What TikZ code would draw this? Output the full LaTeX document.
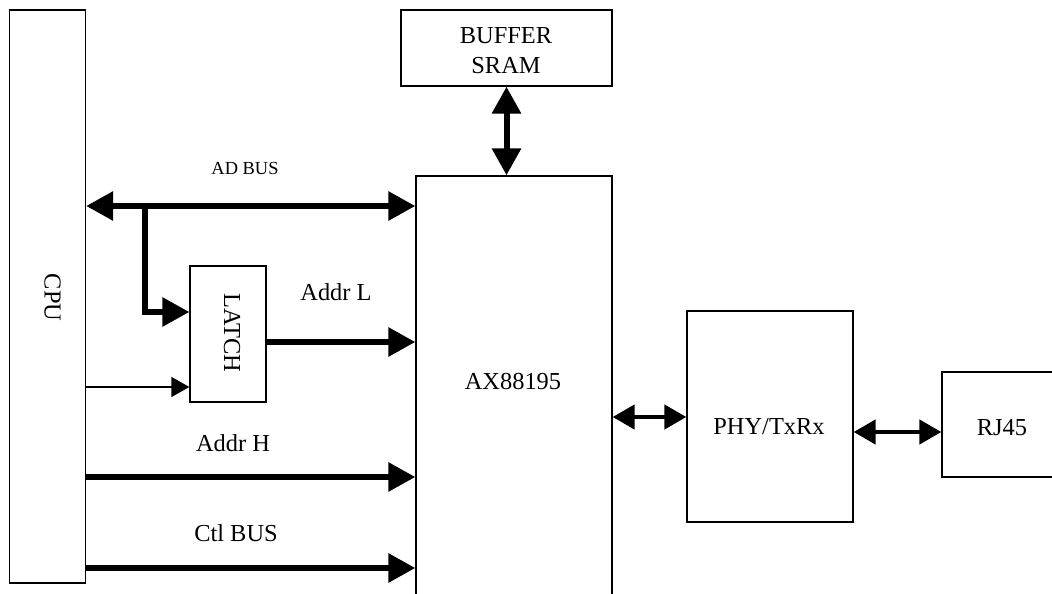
\documentclass[tikz,border=0pt]{standalone}
\usepackage{fontspec}
\setmainfont{Liberation Serif}
\usetikzlibrary{arrows.meta,calc}
\begin{document}
\begin{tikzpicture}[x=1bp,y=-1bp,
  box/.style={draw, line width=1.3bp, inner sep=0pt},
  lbl/.style={font=\fontsize{24.5}{30}\selectfont, inner sep=0pt, align=center},
  smalllbl/.style={font=\fontsize{18.5}{22}\selectfont, inner sep=0pt},
  busarrow/.style={line width=6bp, -{Triangle[length=27bp,width=28bp]}},
  dbusarrow/.style={line width=6bp, {Triangle[length=27bp,width=28bp]}-{Triangle[length=27bp,width=28bp]}},
  netarrow/.style={line width=4.5bp, {Triangle[length=22bp,width=24bp]}-{Triangle[length=22bp,width=24bp]}},
  ctlarrow/.style={line width=1.3bp, -{Triangle[length=18bp,width=20bp]}}]
\useasboundingbox (0,0) rectangle (1052,594);
\fill[white] (0,0) rectangle (1052,594);
\clip (0,0) rectangle (1052,594);
% boxes
\node[box, minimum width=76bp, minimum height=573bp] (cpu) at (47.5,296.5) {};
\node[box, minimum width=76bp, minimum height=136bp] (latch) at (228,334) {};
\node[box, minimum width=211bp, minimum height=76bp] (buffer) at (506.5,48) {};
\node[box, minimum width=196bp, minimum height=464bp] (ax) at (514,408) {};
\node[box, minimum width=166bp, minimum height=211bp] (phy) at (770,416.5) {};
\node[box, minimum width=158bp, minimum height=105bp] (rj) at (1021,424.5) {};
% labels
\node[lbl, rotate=-90] (cpulbl) at (52.5,297.5) {CPU};
\node[lbl, rotate=-90] (latchlbl) at (232,333) {LATCH};
\node[lbl] (buflbl) at (506,51) {BUFFER\\SRAM};
\node[lbl] (axlbl) at (513,382) {AX88195};
\node[lbl] (phylbl) at (769,427) {PHY/TxRx};
\node[lbl] (rjlbl) at (1002,428) {RJ45};
\node[smalllbl] (adlbl) at (245,168) {AD BUS};
\node[lbl] (addrl) at (336,292) {Addr L};
\node[lbl] (addrh) at (233,443) {Addr H};
\node[lbl] (ctlbus) at (236,533) {Ctl BUS};
% levels
\coordinate (adY) at (0,206);
\coordinate (brY) at (0,312);
\coordinate (ctY) at (0,387);
\coordinate (alY) at (0,342);
\coordinate (ahY) at (0,477);
\coordinate (cbY) at (0,568);
\coordinate (phY) at (0,417);
\coordinate (rjY) at (0,432);
\coordinate (br) at (145,206);
% connectors
\draw[dbusarrow] (cpu.east |- adY) -- (ax.west |- adY);
\draw[busarrow] (br) |- (latch.west |- brY);
\draw[ctlarrow] (cpu.east |- ctY) -- (latch.west |- ctY);
\draw[busarrow] (latch.east |- alY) -- (ax.west |- alY);
\draw[busarrow] (cpu.east |- ahY) -- (ax.west |- ahY);
\draw[busarrow] (cpu.east |- cbY) -- (ax.west |- cbY);
\draw[dbusarrow] (buffer.south) -- (buffer.south |- ax.north);
\draw[netarrow] (ax.east |- phY) -- (phy.west |- phY);
\draw[netarrow] (phy.east |- rjY) -- (rj.west |- rjY);
\end{tikzpicture}
\end{document}
